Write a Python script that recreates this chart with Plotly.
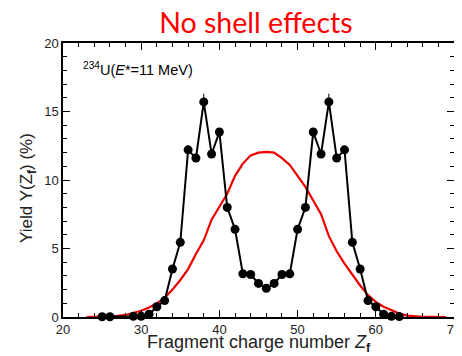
import plotly.graph_objects as go

z_data = [25, 26, 29, 30, 31, 32, 33, 34, 35, 36, 37, 38, 39, 40, 41, 42, 43, 44, 45, 46,
          47, 48, 49, 50, 51, 52, 53, 54, 55, 56, 57, 58, 59, 60, 61, 62, 63]
y_data = [0.02, 0.02, 0.05, 0.05, 0.2, 0.75, 1.2, 3.5, 5.45, 12.2, 11.6, 15.7, 11.9, 13.5, 8.0, 6.4, 3.15, 3.1, 2.45, 2.1,
          2.45, 3.1, 3.15, 6.4, 8.0, 13.5, 11.9, 15.7, 11.6, 12.2, 5.45, 3.5, 1.2, 0.75, 0.2, 0.05, 0.03]
y_err = [0, 0, 0, 0, 0, 0, 0, 0, 0, 0, 0, 0.6, 0, 0, 0, 0, 0, 0, 0, 0,
         0, 0, 0, 0, 0, 0, 0, 0.6, 0, 0, 0, 0, 0, 0, 0, 0, 0]

z_model = list(range(23, 70))
y_model = [0.0, 0.01, 0.02, 0.04, 0.08, 0.15, 0.3, 0.45, 0.7, 1.0, 1.4, 2.0, 2.7, 3.5, 4.6, 5.6, 7.1, 8.0, 9.0, 10.3, 11.2,
           11.8, 12.0, 12.05, 12.0, 11.6, 11.1, 10.3, 9.5, 8.5, 7.5, 5.9, 4.8, 3.9, 3.1, 2.3, 1.6, 1.1, 0.75, 0.5, 0.25,
           0.1, 0.05, 0.02, 0.01, 0.0, 0.0]

FONT = "Liberation Sans, Arial, sans-serif"

fig = go.Figure()
fig.add_trace(go.Scatter(x=z_model, y=y_model, mode="lines",
                         line=dict(color="#ee0000", width=2.2), showlegend=False, cliponaxis=False))
fig.add_trace(go.Scatter(x=z_data, y=y_data, mode="lines+markers",
                         line=dict(color="black", width=2),
                         error_y=dict(type="data", array=y_err, color="black", thickness=1, width=0),
                         marker=dict(color="black", size=9), showlegend=False, cliponaxis=False))

axis_common = dict(showgrid=False, zeroline=False, showline=True, linecolor="black", linewidth=1.5,
                   mirror="allticks", ticks="inside", tickcolor="black", tickwidth=1.2, automargin=False,
                   tickfont=dict(family=FONT, size=13, color="#222"))

fig.update_xaxes(range=[20, 70], dtick=10, tick0=20, ticklen=7,
                 minor=dict(dtick=2, ticklen=4, ticks="inside", tickcolor="black", tickwidth=1),
                 **axis_common)
fig.update_yaxes(range=[0, 20], dtick=5, tick0=0, ticklen=7,
                 minor=dict(dtick=1, ticklen=4, ticks="inside", tickcolor="black", tickwidth=1),
                 **axis_common)

fig.add_annotation(x=0.5, y=-0.095, xref="paper", yref="paper", xanchor="center", yanchor="middle",
                   text="Fragment charge number <i>Z</i><sub><b>f</b></sub>", showarrow=False,
                   font=dict(family=FONT, size=18, color="#222"))
fig.add_annotation(x=-0.0895, y=0.471, xref="paper", yref="paper", xanchor="center", yanchor="middle",
                   text="Yield Y(Z<sub><b>f</b></sub>) (%)", showarrow=False, textangle=-90,
                   font=dict(family=FONT, size=17, color="#222"))
fig.add_annotation(x=0.047, y=0.905, xref="paper", yref="paper", xanchor="left", yanchor="middle",
                   text="<sup>234</sup>U(<i>E</i>*=11 MeV)", showarrow=False,
                   font=dict(family=FONT, size=14.5, color="black"))

fig.update_layout(
    width=454, height=348,
    margin=dict(l=55, r=8, t=35, b=39),
    paper_bgcolor="white", plot_bgcolor="white",
    title=dict(text="No shell effects", x=0.546, xanchor="center", y=0.958, yanchor="middle",
               font=dict(family="Lato, Open Sans, sans-serif", size=28.5, color="#ff0000")),
)

fig.write_html("out.html")
